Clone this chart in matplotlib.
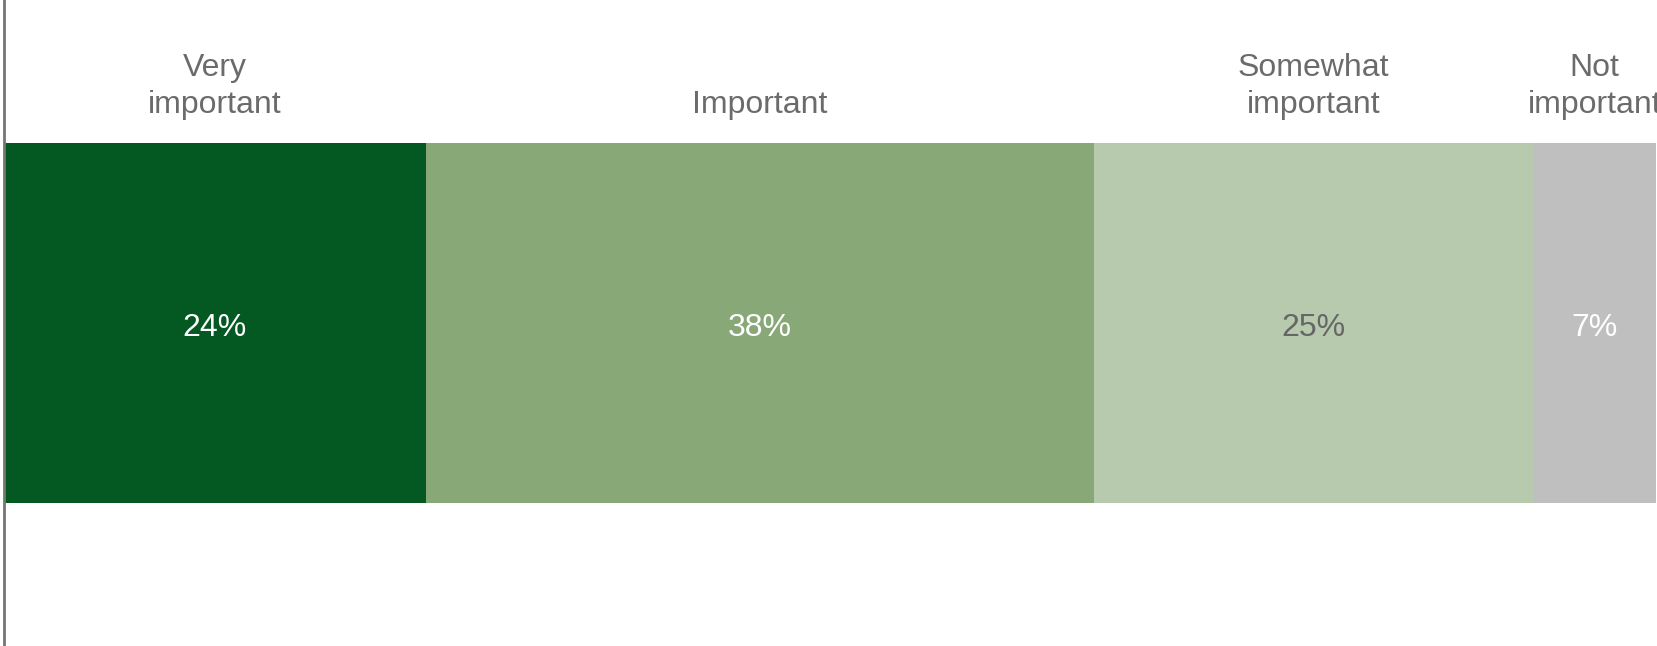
import matplotlib.pyplot as plt

categories = ['Very\nimportant', 'Important', 'Somewhat\nimportant', 'Not\nimportant']
values = [24, 38, 25, 7]
colors = ['#045822', '#88a878', '#b7caad', '#bfbfbf']
value_colors = ['white', 'white', '#666666', 'white']

plt.rcParams['font.family'] = ['Liberation Sans', 'DejaVu Sans']

fig = plt.figure(figsize=(16.58, 6.46), dpi=100)
ax = fig.add_axes([4 / 1658, 0, 1 - 4 / 1658, 1])

left = 0
for cat, val, col, vcol in zip(categories, values, colors, value_colors):
    ax.barh(0, val, left=left, height=0.557, color=col, edgecolor='none')
    mid = left + val / 2
    ax.text(mid, -0.008, f'{val}%', ha='center', va='center', color=vcol, fontsize=23)
    ax.text(mid, 0.315, cat, ha='center', va='bottom', color='#6b6b6b',
            fontsize=23, linespacing=1.3, clip_on=False)
    left += val

ax.set_xlim(0, 94.1)
ax.set_ylim(-0.5, 0.5)
for s in ['top', 'right', 'bottom']:
    ax.spines[s].set_visible(False)
ax.spines['left'].set_color('#767676')
ax.spines['left'].set_linewidth(2)
ax.set_xticks([])
ax.set_yticks([])

plt.savefig('out.png', dpi=100)
